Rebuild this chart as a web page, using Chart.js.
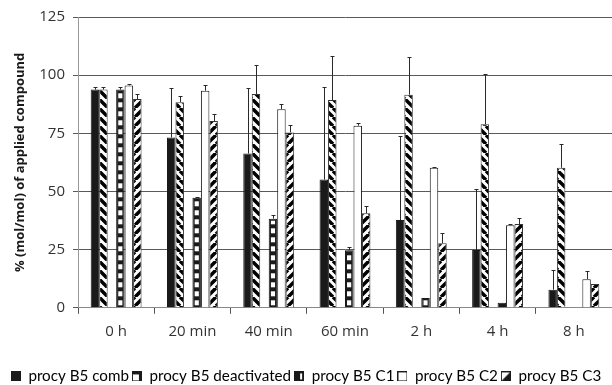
<!DOCTYPE html>
<html>
<head>
<meta charset="utf-8">
<script src="https://cdn.jsdelivr.net/npm/chart.js@4"></script>
<style>
  html, body { margin: 0; padding: 0; background: #fff; }
  #wrap { width: 612px; height: 385px; }
</style>
</head>
<body>
<div id="wrap"><canvas id="procyChart"></canvas></div>
<script>
const categories = ['0 h', '20 min', '40 min', '60 min', '2 h', '4 h', '8 h'];
const seriesNames = ['procy B5 comb', 'procy B5 deactivated', 'procy B5 C1', 'procy B5 C2', 'procy B5 C3'];

const combVals  = [93.8, 73.2, 66.3, 55.1, 37.7, 24.8, 7.8];
const combErr   = [1.2, 21.3, 28.2, 40.0, 36.0, 26.2, 8.5];
const deactVals = [93.8, 88.4, 91.9, 89.3, 91.6, 78.9, 60.2];
const deactErr  = [1.2, 2.5, 12.4, 19.0, 16.0, 21.8, 10.4];
const c1Vals    = [93.8, 47.3, 38.3, 24.7, 4.2, 2.2, 0];
const c1Err     = [1.2, 0.5, 1.5, 1.5, 0, 0, 0];
const c2Vals    = [95.6, 93.3, 85.4, 78.3, 60.2, 35.5, 12.3];
const c2Err     = [0.5, 2.3, 2.2, 1.3, 0.5, 0.5, 3.5];
const c3Vals    = [89.7, 80.3, 75.4, 40.6, 27.8, 36.0, 10.2];
const c3Err     = [2.0, 3.2, 3.0, 3.2, 4.2, 2.7, 0];
// empty slot between "deactivated" and C1 in the original
const emptySlot = [null, null, null, null, null, null, null];

const yTicks = [0, 25, 50, 75, 100, 125];

const FONT = "'Open Sans', 'Liberation Sans', sans-serif";
const LEGEND_FONT = "Lato, 'Open Sans', sans-serif";

function stripePattern(dir) {
    const c = document.createElement('canvas');
    c.width = 9; c.height = 9;
    const g = c.getContext('2d');
    g.fillStyle = '#fff';
    g.fillRect(0, 0, 9, 9);
    g.strokeStyle = '#000';
    g.lineWidth = 3.5;
    g.beginPath();
    for (let k = -1; k <= 1; k++) {
        if (dir === 'back') {
            g.moveTo(k * 9, 0); g.lineTo(k * 9 + 9, 9);
        } else {
            g.moveTo(k * 9, 9); g.lineTo(k * 9 + 9, 0);
        }
    }
    g.stroke();
    return g.createPattern(c, 'repeat');
}

// little legend icons
function icon(draw) {
    const c = document.createElement('canvas');
    c.width = 10; c.height = 10;
    const g = c.getContext('2d');
    draw(g);
    return c;
}
const legendIcons = [
    icon(g => { g.fillStyle = '#1a1a1a'; g.fillRect(0, 0, 10, 10); }),
    icon(g => {
        g.fillStyle = '#fff'; g.fillRect(0, 0, 10, 10);
        g.fillStyle = '#1a1a1a';
        g.beginPath(); g.moveTo(0, 0); g.lineTo(10, 0); g.lineTo(10, 10); g.lineTo(7, 10); g.lineTo(7, 3); g.lineTo(0, 3); g.closePath(); g.fill();
        g.strokeStyle = '#1a1a1a'; g.lineWidth = 1; g.strokeRect(0.5, 0.5, 9, 9);
    }),
    icon(g => {
        g.fillStyle = '#1a1a1a'; g.fillRect(0, 0, 10, 10);
        g.fillStyle = '#fff'; g.fillRect(6, 2, 2, 6);
    }),
    icon(g => {
        g.fillStyle = '#fff'; g.fillRect(0, 0, 10, 10);
        g.strokeStyle = '#1a1a1a'; g.lineWidth = 1; g.strokeRect(0.5, 0.5, 9, 9);
    }),
    icon(g => {
        g.fillStyle = '#fff'; g.fillRect(0, 0, 10, 10);
        g.fillStyle = '#1a1a1a';
        g.beginPath(); g.moveTo(10, 0); g.lineTo(10, 10); g.lineTo(0, 10); g.closePath(); g.fill();
        g.strokeStyle = '#1a1a1a'; g.lineWidth = 1; g.strokeRect(0.5, 0.5, 9, 9);
    })
];

const errorsByDataset = [combErr, deactErr, null, c1Err, c2Err, c3Err];

// error bars (upper only) drawn from the y scale
const errorBarPlugin = {
    id: 'errorBars',
    afterDatasetsDraw(chart) {
        const ctx = chart.ctx;
        const y = chart.scales.y;
        ctx.save();
        ctx.strokeStyle = '#2a2a2a';
        ctx.lineWidth = 1;
        chart.data.datasets.forEach((ds, di) => {
            const errs = errorsByDataset[di];
            if (!errs) return;
            const meta = chart.getDatasetMeta(di);
            meta.data.forEach((bar, i) => {
                const v = ds.data[i];
                if (v == null || !errs[i]) return;
                const x = Math.round(bar.x) + 0.5;
                const top = Math.round(y.getPixelForValue(v + errs[i])) + 0.5;
                const base = y.getPixelForValue(v);
                ctx.beginPath();
                ctx.moveTo(x, base);
                ctx.lineTo(x, top);
                ctx.moveTo(x - 2, top);
                ctx.lineTo(x + 2, top);
                ctx.stroke();
            });
        });
        ctx.restore();
    }
};

// white windows in the C1 bars
const ladderPlugin = {
    id: 'ladder',
    afterDatasetDraw(chart, args) {
        if (args.index !== 3) return;
        const ctx = chart.ctx;
        ctx.save();
        ctx.fillStyle = '#fff';
        args.meta.data.forEach(bar => {
            const p = bar.getProps(['x', 'y', 'base', 'width'], true);
            const left = p.x - p.width / 2 + 2;
            const w = p.width - 4;
            if (w <= 0 || p.base - p.y < 5) return;
            ctx.save();
            ctx.beginPath();
            ctx.rect(left, p.y + 2, w, p.base - p.y - 2);
            ctx.clip();
            for (let yy = p.base - 2; yy > p.y + 2; yy -= 9) {
                ctx.fillRect(left, yy - 5, w, 5);
            }
            ctx.restore();
        });
        ctx.restore();
    }
};

const ctx = document.getElementById('procyChart').getContext('2d');

new Chart(ctx, {
    type: 'bar',
    data: {
        labels: categories,
        datasets: [
            { label: seriesNames[0], data: combVals, backgroundColor: '#1a1a1a', borderColor: '#1a1a1a', borderWidth: 1 },
            { label: seriesNames[1], data: deactVals, backgroundColor: stripePattern('back'), borderColor: '#333', borderWidth: 1 },
            { label: '', data: emptySlot, backgroundColor: 'rgba(0,0,0,0)' },
            { label: seriesNames[2], data: c1Vals, backgroundColor: '#1a1a1a', borderColor: '#1a1a1a', borderWidth: 1 },
            { label: seriesNames[3], data: c2Vals, backgroundColor: '#fff', borderColor: '#1a1a1a', borderWidth: 1 },
            { label: seriesNames[4], data: c3Vals, backgroundColor: stripePattern('fwd'), borderColor: '#333', borderWidth: 1 }
        ]
    },
    options: {
        responsive: true,
        maintainAspectRatio: false,
        animation: false,
        layout: { padding: { top: 15, right: 0, bottom: -9, left: 0 } },
        datasets: { bar: { categoryPercentage: 0.667, barPercentage: 1.0 } },
        plugins: {
            tooltip: { enabled: false },
            legend: {
                position: 'bottom',
                labels: {
                    font: { family: LEGEND_FONT, size: 15.2 },
                    color: '#1a1a1a',
                    padding: 3,
                    boxWidth: 10,
                    boxHeight: 10,
                    usePointStyle: true,
                    generateLabels(chart) {
                        const order = [0, 1, 3, 4, 5];
                        return order.map((di, k) => ({
                            text: chart.data.datasets[di].label,
                            pointStyle: legendIcons[k],
                            datasetIndex: di,
                            fillStyle: '#000',
                            strokeStyle: '#000',
                            lineWidth: 0,
                            hidden: false
                        }));
                    }
                }
            }
        },
        scales: {
            x: {
                grid: { offset: true, drawOnChartArea: false, drawTicks: true, tickLength: 6, color: '#555' },
                border: { color: '#888' },
                ticks: { font: { family: FONT, size: 15 }, color: '#333', padding: 9 },
                afterFit: s => { s.height = 58; }
            },
            y: {
                min: 0,
                max: 125,
                afterBuildTicks: s => { s.ticks = yTicks.map(v => ({ value: v })); },
                grid: { color: '#5a5a5a', lineWidth: 1, tickLength: 5 },
                border: { color: '#999', width: 1 },
                ticks: { font: { family: FONT, size: 15 }, color: '#333', padding: 8 },
                title: {
                    display: true,
                    text: '% (mol/mol) of applied compound',
                    font: { family: FONT, size: 13, weight: 'bold' },
                    color: '#1a1a1a',
                    padding: { top: 12, bottom: 0 }
                },
                afterFit: s => { s.width = 78; }
            }
        }
    },
    plugins: [errorBarPlugin, ladderPlugin]
});
</script>
</body>
</html>
